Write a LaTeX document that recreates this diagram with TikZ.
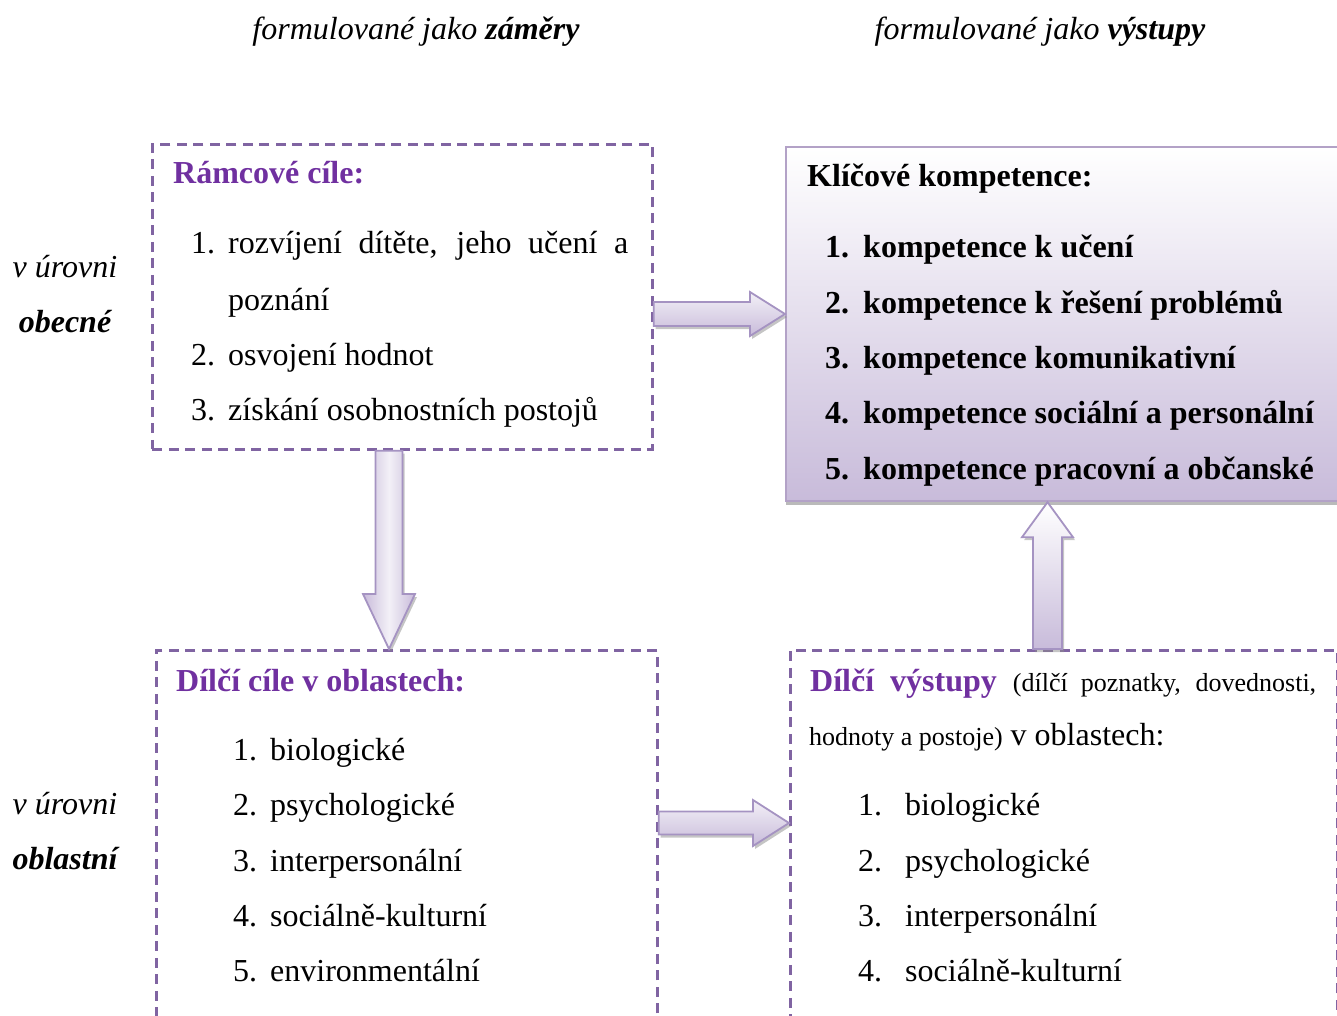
\documentclass[tikz,border=0pt]{standalone}
\usepackage{fontspec}
\setmainfont{Liberation Serif}
\usetikzlibrary{calc,shadows}
\definecolor{dpurple}{HTML}{8064A2}
\definecolor{hpurple}{HTML}{7030A0}
\definecolor{lav}{HTML}{B3A2C7}
\definecolor{lavline}{HTML}{A593C2}
\definecolor{lavfill}{HTML}{C8BBDA}
\definecolor{lavlight}{HTML}{F3F0F7}
\begin{document}
\begin{tikzpicture}[x=1pt,y=-1pt,
  dbox/.style={draw=dpurple, line width=2.7pt, dash pattern=on 10pt off 6.5pt, anchor=north west, inner sep=0pt},
  kbox/.style={draw=lav, line width=2.2pt, top color=white, bottom color=lavfill, anchor=north west, inner sep=0pt,
     drop shadow={shadow xshift=0pt, shadow yshift=-4pt, fill=black!45, opacity=0.6}},
  barrow/.style={draw=lavline, line width=1.8pt, line join=miter,
     drop shadow={shadow xshift=2pt, shadow yshift=-3pt, fill=black!45, opacity=0.5}},
  harrowfill/.style={top color=lavlight, bottom color=lavfill},
  t/.style={anchor=base west, inner sep=0pt, font=\fontsize{32}{38}\selectfont},
  tc/.style={anchor=base, inner sep=0pt, font=\fontsize{32}{38}\selectfont},
]
\useasboundingbox (0,0) rectangle (1337,1016);

% column headers
\node[tc] (h1) at (416,40) {\itshape formulované jako \textbf{záměry}};
\node[tc] (h2) at (1040,40) {\itshape formulované jako \textbf{výstupy}};

% row labels
\node[tc] (r1a) at (65,277) {\itshape v úrovni};
\node[tc] (r1b) at (65,332) {\itshape\bfseries obecné};
\node[tc] (r2a) at (65,814) {\itshape v úrovni};
\node[tc] (r2b) at (65,869) {\itshape\bfseries oblastní};

% boxes
\node[dbox, minimum width=500pt, minimum height=305pt] (b1) at (151,143) {};
\node[kbox, minimum width=570pt, minimum height=354pt] (b2) at (785,146) {};
\node[dbox, minimum width=501pt, minimum height=390pt] (b3) at (155,649) {};
\node[dbox, minimum width=547pt, minimum height=390pt] (b4) at (789,649) {};

% box 1 text
\node[t, text=hpurple, font=\fontsize{32}{38}\selectfont\bfseries] (b1h) at (173,184) {Rámcové cíle:};
\node[t] (b1n1) at (191,254) {1.};
\node[t] (b1i1) at (228,254) {\makebox[400pt][s]{rozvíjení dítěte, jeho učení a}};
\node[t] (b1i1b) at (228,310) {poznání};
\node[t] (b1n2) at (191,365) {2.};
\node[t] (b1i2) at (228,365) {osvojení hodnot};
\node[t] (b1n3) at (191,420) {3.};
\node[t] (b1i3) at (228,420) {získání osobnostních postojů};

% box 2 text
\node[t, font=\fontsize{32}{38}\selectfont\bfseries] (b2h) at (807,187) {Klíčové kompetence:};
\foreach \n/\y/\s in {1/258/kompetence k učení, 2/313/kompetence k řešení problémů,
   3/368/kompetence komunikativní, 4/423/kompetence sociální a personální,
   5/479/kompetence pracovní a občanské}{
  \node[t, font=\fontsize{32}{38}\selectfont\bfseries] (b2n\n) at (825,\y) {\n.};
  \node[t, font=\fontsize{32}{38}\selectfont\bfseries] (b2i\n) at (863,\y) {\s};
}

% box 3 text
\node[t, text=hpurple, font=\fontsize{32}{38}\selectfont\bfseries] (b3h) at (176,691) {Dílčí cíle v oblastech:};
\foreach \n/\y/\s in {1/760/biologické, 2/815/psychologické, 3/871/interpersonální,
   4/926/sociálně-kulturní, 5/981/environmentální}{
  \node[t] (b3n\n) at (233,\y) {\n.};
  \node[t] (b3i\n) at (270,\y) {\s};
}

% box 4 text
\node[t] (b4h) at (810,691) {\makebox[506pt][s]{\textcolor{hpurple}{\bfseries Dílčí výstupy} {\fontsize{26}{30}\selectfont (dílčí poznatky, dovednosti,}}};
\node[t] (b4h2) at (809,745) {{\fontsize{26}{30}\selectfont hodnoty a postoje)} v oblastech:};
\foreach \n/\y/\s in {1/815/biologické, 2/871/psychologické, 3/926/interpersonální,
   4/981/sociálně-kulturní}{
  \node[t] (b4n\n) at (858,\y) {\n.};
  \node[t] (b4i\n) at (905,\y) {\s};
}

% block arrows
\coordinate (a1s) at (b1.east |- 0,314);
\coordinate (a1e) at (b2.west |- 0,314);
\path[barrow, harrowfill] ($(a1s)+(0,-12)$) -- ($(a1e)+(-35,-12)$) -- ($(a1e)+(-35,-22)$) -- (a1e)
   -- ($(a1e)+(-35,22)$) -- ($(a1e)+(-35,12)$) -- ($(a1s)+(0,12)$) -- cycle;

\coordinate (a2s) at (b1.south -| 389,0);
\coordinate (a2e) at (b3.north -| 389,0);
\path[barrow, left color=lavfill, right color=lavfill, middle color=lavlight] ($(a2s)+(-13.5,0)$) -- ($(a2e)+(-13.5,-55)$) -- ($(a2e)+(-26,-55)$) -- (a2e)
   -- ($(a2e)+(26,-55)$) -- ($(a2e)+(13.5,-55)$) -- ($(a2s)+(13.5,0)$) -- cycle;

\coordinate (a3s) at (b4.north -| 1047.5,0);
\coordinate (a3e) at (b2.south -| 1047.5,0);
\path[barrow, top color=white, bottom color=lavfill] ($(a3s)+(-14.5,0)$) -- ($(a3e)+(-14.5,35)$) -- ($(a3e)+(-25.5,35)$) -- (a3e)
   -- ($(a3e)+(25.5,35)$) -- ($(a3e)+(14.5,35)$) -- ($(a3s)+(14.5,0)$) -- cycle;

\coordinate (a4s) at (b3.east |- 0,823);
\coordinate (a4e) at (b4.west |- 0,823);
\path[barrow, harrowfill] ($(a4s)+(0,-11.5)$) -- ($(a4e)+(-36,-11.5)$) -- ($(a4e)+(-36,-23)$) -- (a4e)
   -- ($(a4e)+(-36,23)$) -- ($(a4e)+(-36,11.5)$) -- ($(a4s)+(0,11.5)$) -- cycle;
\end{tikzpicture}
\end{document}
